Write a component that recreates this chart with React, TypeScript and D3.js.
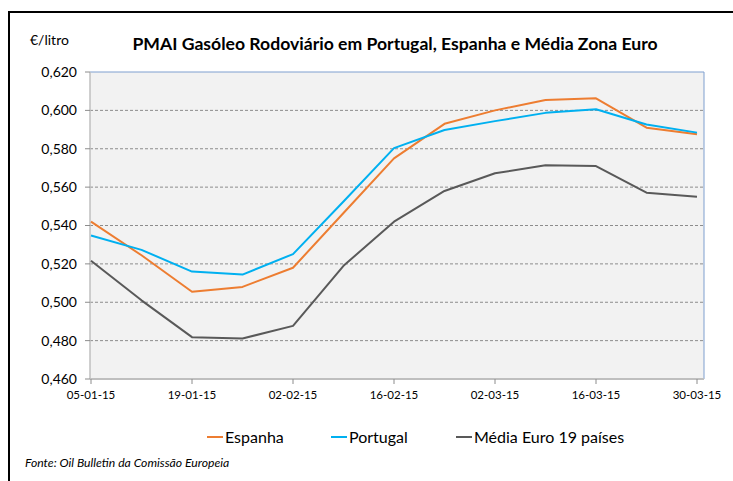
import React from "react";
import * as d3 from "d3";

const startDates = ["2015-01-05","2015-01-12","2015-01-19","2015-01-26","2015-02-02","2015-02-09","2015-02-16","2015-02-23","2015-03-02","2015-03-09","2015-03-16","2015-03-23","2015-03-30"];
const espanha = [0.542, 0.5245, 0.5055, 0.508, 0.518, 0.5465, 0.575, 0.593, 0.600, 0.6054, 0.6063, 0.591, 0.5875];
const portugal = [0.5348, 0.5273, 0.516, 0.5144, 0.5251, 0.5525, 0.5803, 0.5898, 0.5944, 0.5987, 0.6006, 0.5926, 0.5884];
const media = [0.5216, 0.501, 0.4818, 0.4811, 0.4877, 0.519, 0.542, 0.558, 0.5672, 0.5714, 0.571, 0.5571, 0.555];
const seriesNames = ["Espanha", "Portugal", "Média Euro 19 países"];
const seriesColors = ["#ED7D31", "#00B0F0", "#595959"];
const yTicks = [0.46, 0.48, 0.5, 0.52, 0.54, 0.56, 0.58, 0.6, 0.62];
const xTickDates = ["2015-01-05","2015-01-19","2015-02-02","2015-02-16","2015-03-02","2015-03-16","2015-03-30"];
const title = "PMAI Gasóleo Rodoviário em Portugal, Espanha e Média Zona Euro";
const unitLabel = "€/litro";
const sourceLabel = "Fonte: Oil Bulletin da Comissão Europeia";

const parse = d3.utcParse("%Y-%m-%d");
const fmtDate = d3.utcFormat("%d-%m-%y");
const font = "Lato, 'Open Sans', sans-serif";

export default function App() {
  const W = 733, H = 481;
  const left = 90, right = 704, top = 72, bottom = 379;
  const dates = startDates.map((d) => parse(d) as Date);
  const x = d3.scaleUtc().domain([dates[0], dates[dates.length - 1]]).range([91, 697]);
  const y = d3.scaleLinear().domain([0.46, 0.62]).range([bottom, top]);
  const yFmt = (v: number) => d3.format(".3f")(v).replace(".", ",");
  const series = [espanha, portugal, media];
  const line = d3.line<number>().x((_, i) => x(dates[i])).y((v) => y(v));
  const legendX = [207, 331, 456];

  return (
    <svg width={W} height={H} style={{ position: "absolute", left: 0, top: 0, background: "#fff" }} fontFamily={font}>
      <rect x={0} y={0} width={W} height={H} fill="#fff" />
      {/* outer frame */}
      <path d={`M9,${H + 5} L9,12 L${W + 5},12`} fill="none" stroke="#000" strokeWidth={2} />
      <text x={30} y={45} fontSize={14} fill="#000">{unitLabel}</text>
      <text x={395} y={50} fontSize={17.6} fontWeight="bold" textAnchor="middle" fill="#000">{title}</text>
      {/* plot area */}
      <rect x={left} y={top} width={right - left} height={bottom - top} fill="#F2F2F2" />
      {yTicks.filter((t) => t > 0.46 && t < 0.62).map((t) => (
        <line key={t} x1={left} x2={right} y1={y(t)} y2={y(t)} stroke="#8c8c8c" strokeWidth={1} strokeDasharray="3,2" />
      ))}
      <line x1={left} x2={right} y1={top} y2={top} stroke="#7F9FCF" strokeWidth={1} />
      <line x1={right} x2={right} y1={top} y2={bottom} stroke="#7F9FCF" strokeWidth={1} />
      <line x1={left} x2={left} y1={top} y2={bottom} stroke="#bfbfbf" strokeWidth={1.5} />
      <line x1={left} x2={right} y1={bottom} y2={bottom} stroke="#bfbfbf" strokeWidth={2} />
      {yTicks.map((t) => (
        <g key={t}>
          <line x1={left - 5} x2={left} y1={y(t)} y2={y(t)} stroke="#8c8c8c" />
          <text x={77} y={y(t)} dy="0.35em" fontSize={14} textAnchor="end" fill="#000">{yFmt(t)}</text>
        </g>
      ))}
      {xTickDates.map((s) => {
        const d = parse(s) as Date;
        return (
          <g key={s}>
            <line x1={x(d)} x2={x(d)} y1={bottom} y2={bottom + 5} stroke="#8c8c8c" />
            <text x={x(d)} y={399} fontSize={11.5} textAnchor="middle" fill="#000">{fmtDate(d)}</text>
          </g>
        );
      })}
      {series.map((s, i) => (
        <path key={i} d={line(s) || ""} fill="none" stroke={seriesColors[i]} strokeWidth={2} strokeLinejoin="round" />
      ))}
      {seriesNames.map((n, i) => (
        <g key={n}>
          <line x1={legendX[i]} x2={legendX[i] + 16} y1={437} y2={437} stroke={seriesColors[i]} strokeWidth={2} />
          <text x={legendX[i] + 18} y={437} dy="0.35em" fontSize={16} fill="#000">{n}</text>
        </g>
      ))}
      <text x={25} y={467} fontSize={12.2} fontStyle="italic" fill="#000">{sourceLabel}</text>
    </svg>
  );
}
